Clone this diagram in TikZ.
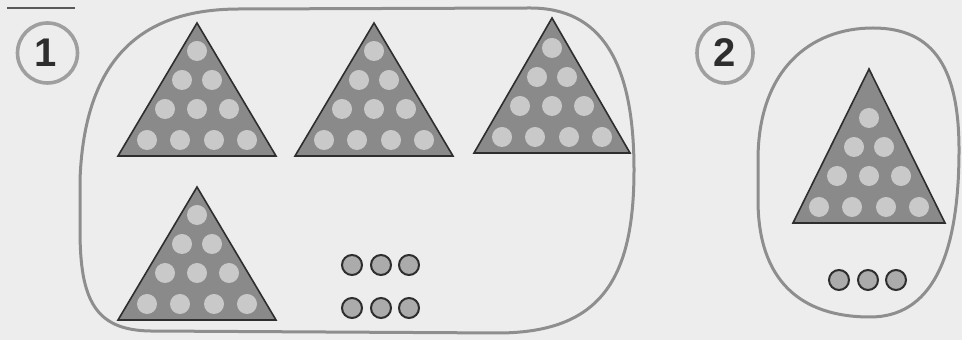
\documentclass[tikz,border=0pt]{standalone}
\usepackage{fontspec}
\newfontfamily\numfont{Liberation Sans}
\definecolor{paper}{HTML}{EDEDED}
\definecolor{rim}{HTML}{8E8E8E}
\definecolor{slate}{HTML}{8A8A8A}
\definecolor{pale}{HTML}{C9C9C9}
\definecolor{ink}{HTML}{2E2E2E}
\tikzset{
 tri/.style={fill=slate,draw=ink,line width=.8pt,line join=miter},
 spot/.style={fill=pale},
 bead/.style={fill=slate!72,draw=ink,line width=1pt},
 rimline/.style={draw=rim,line width=1.5pt},
 numring/.style={draw=rim!85,line width=1.8pt},
 numtext/.style={font=\numfont\bfseries\fontsize{20}{20}\selectfont,text=ink}
}
% triangle of ten spots: centre x, base y, half width, height
\newcommand{\dottri}[4]{%
 \filldraw[tri] (#1-#3,#2) -- (#1,#2-#4) -- (#1+#3,#2) -- cycle;
 \foreach \dx/\dy in {-50/16,-17/16,17/16,50/16,-32/47,0/47,32/47,-15/76,15/76,0/105}
  \fill[spot] (#1+\dx,#2-\dy) circle (5pt);
}

\begin{document}
\begin{tikzpicture}[x=.5pt,y=-.5pt]
 \fill[paper] (0,0) rectangle (962,340);
 \useasboundingbox (0,0) rectangle (962,340);
 \draw[ink!80,line width=.8pt] (7,8) -- (75,8);
 % set 1
 \draw[numring] (47.5,53) ellipse (15pt and 15pt);
 \node[numtext] (one) at (46,53) {1};
 \draw[rimline] (240,9) -- (530,8) .. controls (600,8) and (634,60) .. (634,170)
  .. controls (634,280) and (600,332) .. (500,333) -- (150,331)
  .. controls (95,330) and (80,300) .. (80,230) -- (80,180)
  .. controls (85,40) and (160,9) .. (240,9) -- cycle;
 \dottri{197}{156}{79}{133}
 \dottri{374}{156}{79}{133}
 \dottri{552}{153}{78}{135}
 \dottri{197}{320}{79}{133}
 \draw[bead] (352,265) circle (5pt);
 \draw[bead] (381,265) circle (5pt);
 \draw[bead] (409,265) circle (5pt);
 \draw[bead] (352,308) circle (5pt);
 \draw[bead] (381,308) circle (5pt);
 \draw[bead] (409,308) circle (5pt);
 % set 2
 \draw[numring] (725,53) ellipse (14pt and 15pt);
 \node[numtext] (two) at (725,53) {2};
 \draw[rimline] (873,28) .. controls (935,28) and (959,70) .. (959,150)
  .. controls (959,260) and (930,317) .. (870,317)
  .. controls (800,317) and (758,280) .. (758,200) -- (758,160)
  .. controls (758,70) and (810,28) .. (873,28) -- cycle;
 \dottri{869}{223}{76}{154}
 \draw[bead] (839,280) circle (5pt);
 \draw[bead] (868,280) circle (5pt);
 \draw[bead] (896,280) circle (5pt);
\end{tikzpicture}
\end{document}
